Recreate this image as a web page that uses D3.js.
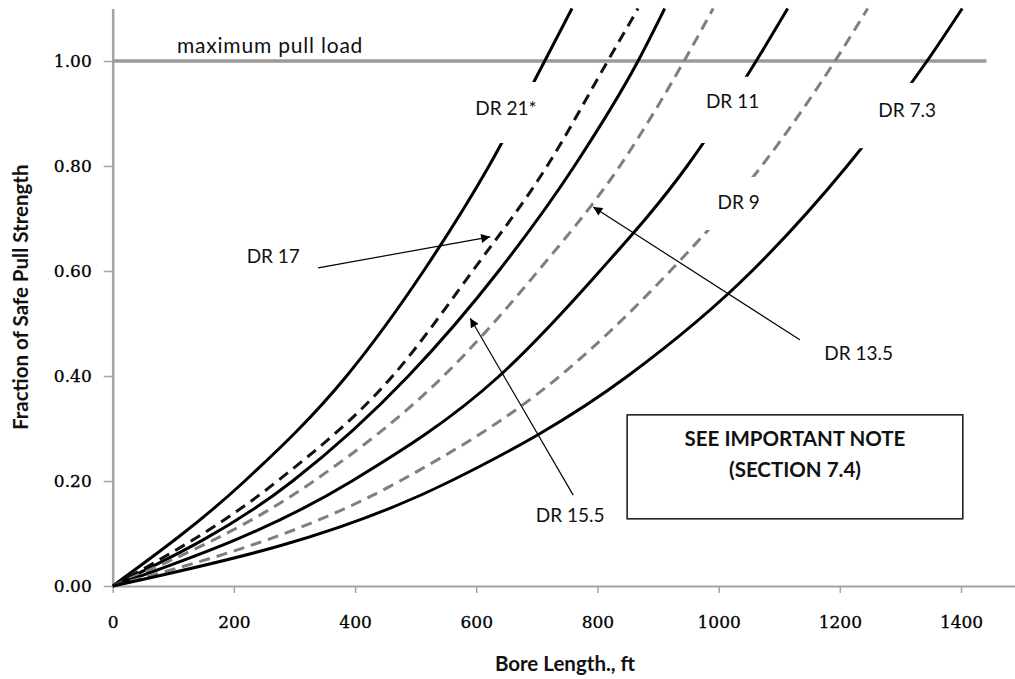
<!DOCTYPE html>
<html>
<head>
<meta charset="utf-8">
<script src="https://cdn.jsdelivr.net/npm/d3@7"></script>
<style>
  html, body { margin: 0; padding: 0; background: #fff; }
  svg { display: block; }
</style>
</head>
<body>
<svg id="chart" width="1015" height="679"></svg>
<script>
// ---------- data ----------
// Fraction of safe pull strength levels at which bore lengths were read
const fractionLevels = [0, 0.2, 0.4, 0.6, 0.8, 1.0, 1.1];
// Bore length (ft) reaching each fraction level, per DR
const dr21  = [0, 218, 386, 513, 621, 713, 758];
const dr17  = [0, 272, 462, 594, 717, 817, 867];
const dr155 = [0, 297, 488, 637, 762, 867, 911];
const dr135 = [0, 332, 546, 702, 837, 943, 991];
const dr11  = [0, 395, 638, 804, 948, 1062, 1114];
const dr9   = [0, 474, 738, 920, 1071, 1192, 1246];
const dr73  = [0, 558, 850, 1055, 1212, 1344, 1402];

const seriesNames = ["DR 21*", "DR 17", "DR 15.5", "DR 13.5", "DR 11", "DR 9", "DR 7.3"];
const seriesValues = [dr21, dr17, dr155, dr135, dr11, dr9, dr73];
const seriesStyle = ["solid", "blackDash", "solid", "grayDash", "solid", "grayDash", "solid"];

const xTicks = [0, 200, 400, 600, 800, 1000, 1200, 1400];
const yTicks = [0, 0.2, 0.4, 0.6, 0.8, 1.0];
const maxPullLoad = 1.0;
const maxPullLoadExtent = [0, 1442];

// labels placed on the curve (label gap in fraction units)
const inlineLabels = [
  { series: "DR 21*", x: 649,  y: 0.897, gap: [0.844, 0.960] },
  { series: "DR 11",  x: 1023, y: 0.910, gap: [0.844, 0.970] },
  { series: "DR 9",   x: 1033, y: 0.718, gap: [0.678, 0.779] },
  { series: "DR 7.3", x: 1311, y: 0.894, gap: [0.834, 0.958] }
];
// labels with arrows
const arrowLabels = [
  { text: "DR 17",   lx: 265,  ly: 0.615, from: [339, 0.606],  to: [623, 0.665] },
  { text: "DR 13.5", lx: 1231, ly: 0.430, from: [1134, 0.469], to: [793, 0.722] },
  { text: "DR 15.5", lx: 755,  ly: 0.1225, from: [760, 0.173], to: [590, 0.510] }
];
const noteLines = ["SEE IMPORTANT NOTE", "(SECTION 7.4)"];
const noteBox = { x0: 849, x1: 1403, y0: 0.128, y1: 0.326, lines: [0.267, 0.208], cx: 1126 };

// ---------- layout ----------
const svg = d3.select("#chart");
const x = d3.scaleLinear().domain([0, 1500]).range([112.7, 1021.6]);
const y = d3.scaleLinear().domain([0, 1.1]).range([586, 8.5]);

const axisColor = "#a3a3a3";
const sansFont = "Lato, 'Open Sans', sans-serif";
const tickFont = "'DejaVu Serif', serif";

const defs = svg.append("defs");
defs.append("marker")
  .attr("id", "arrow")
  .attr("viewBox", "0 0 10 10")
  .attr("refX", 10).attr("refY", 5)
  .attr("markerWidth", 12).attr("markerHeight", 9)
  .attr("markerUnits", "userSpaceOnUse")
  .attr("orient", "auto")
  .append("path").attr("d", "M0,0 L10,5 L0,10 Z").attr("fill", "#000");

// clip paths to leave a gap for inline labels
inlineLabels.forEach((lab, i) => {
  const cp = defs.append("clipPath").attr("id", "gap" + i);
  cp.append("rect").attr("x", 0).attr("width", 1015)
    .attr("y", 0).attr("height", y(lab.gap[1]));
  cp.append("rect").attr("x", 0).attr("width", 1015)
    .attr("y", y(lab.gap[0])).attr("height", 679 - y(lab.gap[0]));
});

// ---------- axes ----------
const yAxis = d3.axisLeft(y).tickValues(yTicks).tickFormat(d3.format(".2f"))
  .tickSize(9).tickSizeOuter(0).tickPadding(12);
const gy = svg.append("g").attr("transform", `translate(${x(0)},0)`).call(yAxis);
gy.attr("color", axisColor);
gy.select(".domain").attr("stroke-width", 2.5);
gy.selectAll(".tick line").attr("stroke-width", 1.5);
gy.selectAll(".tick text").attr("fill", "#000")
  .style("font-family", tickFont).style("font-size", "17px")
  .attr("stroke", "#000").attr("stroke-width", 0.3);

const xAxis = d3.axisBottom(x).tickValues(xTicks).tickFormat(d3.format("d"))
  .tickSize(7).tickSizeOuter(0).tickPadding(23);
const gx = svg.append("g").attr("transform", `translate(0,${y(0)})`).call(xAxis);
gx.attr("color", axisColor);
gx.select(".domain").attr("stroke-width", 2);
gx.selectAll(".tick line").attr("stroke-width", 1.5);
gx.selectAll(".tick text").attr("fill", "#000")
  .style("font-family", tickFont).style("font-size", "17px")
  .attr("stroke", "#000").attr("stroke-width", 0.3);

// axis titles
svg.append("text")
  .attr("transform", `translate(28,${(y(0) + y(1.1)) / 2}) rotate(-90)`)
  .attr("text-anchor", "middle")
  .style("font-family", sansFont).style("font-weight", "bold").style("font-size", "20.5px")
  .attr("fill", "#111")
  .text("Fraction of Safe Pull Strength");

svg.append("text")
  .attr("x", 565).attr("y", 671)
  .attr("text-anchor", "middle")
  .style("font-family", sansFont).style("font-weight", "bold").style("font-size", "20.5px")
  .attr("fill", "#111")
  .text("Bore Length., ft");

// ---------- maximum pull load ----------
svg.append("line")
  .attr("x1", x(maxPullLoadExtent[0])).attr("x2", x(maxPullLoadExtent[1]))
  .attr("y1", y(maxPullLoad)).attr("y2", y(maxPullLoad))
  .attr("stroke", "#9a9a9a").attr("stroke-width", 3.5);
svg.append("text")
  .attr("x", x(106)).attr("y", y(1.016))
  .style("font-family", sansFont).style("font-size", "21px")
  .style("letter-spacing", "0.8px")
  .attr("fill", "#111")
  .text("maximum pull load");

// ---------- curves ----------
const styles = {
  solid:     { stroke: "#000", dash: null },
  blackDash: { stroke: "#111", dash: "11,7" },
  grayDash:  { stroke: "#7f7f7f", dash: "11,7" }
};
const line = d3.line()
  .x(d => x(d[0])).y(d => y(d[1]))
  .curve(d3.curveMonotoneX);

seriesNames.forEach((name, i) => {
  const pts = seriesValues[i].map((len, j) => [len, fractionLevels[j]]);
  const st = styles[seriesStyle[i]];
  const p = svg.append("path")
    .datum(pts)
    .attr("d", line)
    .attr("fill", "none")
    .attr("stroke", st.stroke)
    .attr("stroke-width", 3);
  if (st.dash) p.attr("stroke-dasharray", st.dash);
  const gi = inlineLabels.findIndex(l => l.series === name);
  if (gi >= 0) p.attr("clip-path", `url(#gap${gi})`);
});

// inline labels
inlineLabels.forEach(lab => {
  svg.append("text")
    .attr("x", x(lab.x)).attr("y", y(lab.y))
    .attr("text-anchor", "middle")
    .style("font-family", sansFont).style("font-size", "19px")
    .attr("fill", "#111")
    .text(lab.series);
});

// arrow labels
arrowLabels.forEach(a => {
  svg.append("line")
    .attr("x1", x(a.from[0])).attr("y1", y(a.from[1]))
    .attr("x2", x(a.to[0])).attr("y2", y(a.to[1]))
    .attr("stroke", "#000").attr("stroke-width", 1.2)
    .attr("marker-end", "url(#arrow)");
  svg.append("text")
    .attr("x", x(a.lx)).attr("y", y(a.ly))
    .attr("text-anchor", "middle")
    .style("font-family", sansFont).style("font-size", "19px")
    .attr("fill", "#111")
    .text(a.text);
});

// note box
svg.append("rect")
  .attr("x", x(noteBox.x0)).attr("y", y(noteBox.y1))
  .attr("width", x(noteBox.x1) - x(noteBox.x0))
  .attr("height", y(noteBox.y0) - y(noteBox.y1))
  .attr("fill", "#fff").attr("stroke", "#222").attr("stroke-width", 1.6);
noteLines.forEach((t, i) => {
  svg.append("text")
    .attr("x", x(noteBox.cx)).attr("y", y(noteBox.lines[i]))
    .attr("text-anchor", "middle")
    .style("font-family", sansFont).style("font-weight", "bold").style("font-size", "20.5px")
    .attr("fill", "#111")
    .text(t);
});
</script>
</body>
</html>
